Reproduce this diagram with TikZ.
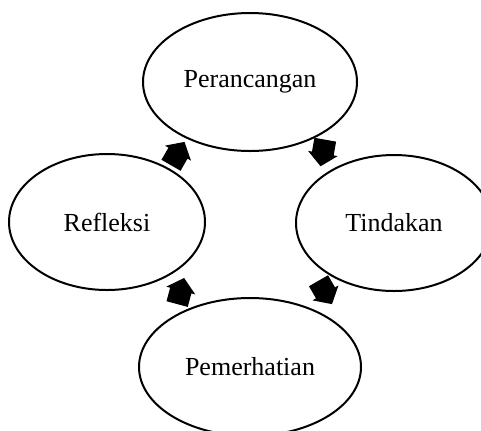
\documentclass[tikz,border=0pt]{standalone}
\usepackage{fontspec}
\setmainfont{Liberation Serif}
\usetikzlibrary{shapes.geometric,calc}
\tikzset{
  stage/.style={draw,ellipse,line width=1pt,inner sep=0pt,minimum width=107pt,minimum height=69pt,font=\fontsize{13}{15}\selectfont},
  blockarrow/.pic={\fill (-13,-11) -- (1,-11) -- (1,-15) -- (14,0) -- (1,15) -- (1,11) -- (-13,11) -- cycle;}
}
\begin{document}
\begin{tikzpicture}[x=0.5pt,y=-0.5pt]
	\useasboundingbox (0,0) rectangle (481,430);
	\begin{scope}
		\clip (0,0) rectangle (481,430);
		\node[stage] (per) at (250,82) {Perancangan};
		\node[stage,minimum width=98pt,minimum height=68pt] (ref) at (107,222) {Refleksi};
		\node[stage,minimum width=98pt,minimum height=68pt] (tin) at (394,223) {Tindakan};
		\node[stage,minimum width=111pt] (pem) at (250,367) {Pemerhatian};
	\end{scope}
	% arrows between the stages
	\pic[rotate=60] (a1) at ($(ref)!0.5!(per)+(-1,2)$) {blockarrow};
	\pic[rotate=-100] (a2) at ($(per)!0.5!(tin)+(1,0)$) {blockarrow};
	\pic[rotate=-60] (a3) at ($(tin)!0.5!(pem)+(3,-3)$) {blockarrow};
	\pic[rotate=75] (a4) at ($(pem)!0.5!(ref)+(2,-3)$) {blockarrow};
\end{tikzpicture}
\end{document}
